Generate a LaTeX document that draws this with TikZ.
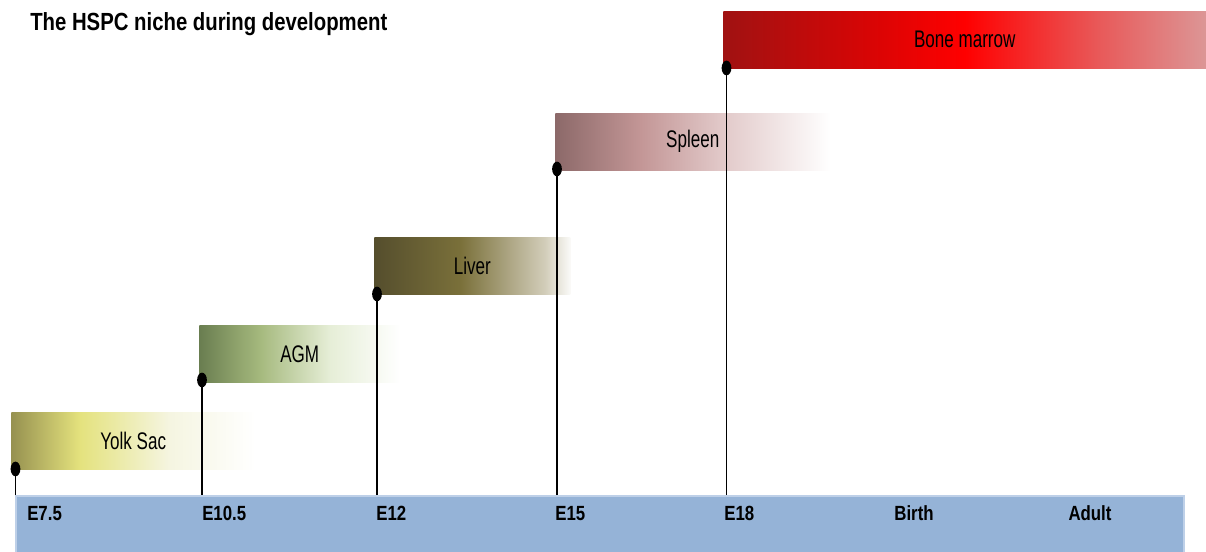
\documentclass[tikz,border=0pt]{standalone}
\usepackage{fontspec}
\setmainfont{Liberation Sans}
\newfontfamily\barfont{Liberation Sans}[FakeStretch=0.71]
\newfontfamily\labfont{Liberation Sans}[FakeStretch=0.82]
\usepackage{xcolor}
\usetikzlibrary{positioning, shapes.geometric}

\definecolor{ysA}{RGB}{150,145,80}
\definecolor{ysB}{RGB}{228,226,125}
\definecolor{ysC}{RGB}{245,245,225}
\definecolor{agA}{RGB}{105,125,80}
\definecolor{agB}{RGB}{165,185,125}
\definecolor{agC}{RGB}{230,238,215}
\definecolor{lvA}{RGB}{85,78,45}
\definecolor{lvB}{RGB}{122,112,58}
\definecolor{lvC}{RGB}{210,205,185}
\definecolor{lvD}{RGB}{250,250,248}
\definecolor{spA}{RGB}{140,105,105}
\definecolor{spB}{RGB}{195,150,150}
\definecolor{spC}{RGB}{225,200,200}
\definecolor{bmA}{RGB}{160,18,18}
\definecolor{bmB}{RGB}{215,5,5}
\definecolor{bmC}{RGB}{255,0,0}
\definecolor{bmD}{RGB}{232,90,90}
\definecolor{bmE}{RGB}{220,150,150}
\definecolor{axisblue}{RGB}{149,179,215}
\definecolor{axisedge}{RGB}{190,208,232}

% bar shadings: the node spans 25bp..75bp
\pgfdeclarehorizontalshading{yolkshade}{100bp}{color(0bp)=(ysA); color(25bp)=(ysA); color(39bp)=(ysB); color(57.5bp)=(ysC); color(75bp)=(white); color(100bp)=(white)}
\pgfdeclarehorizontalshading{agmshade}{100bp}{color(0bp)=(agA); color(25bp)=(agA); color(40bp)=(agB); color(57.5bp)=(agC); color(75bp)=(white); color(100bp)=(white)}
\pgfdeclarehorizontalshading{livershade}{100bp}{color(0bp)=(lvA); color(25bp)=(lvA); color(47bp)=(lvB); color(68.5bp)=(lvC); color(75bp)=(lvD); color(100bp)=(lvD)}
\pgfdeclarehorizontalshading{spleenshade}{100bp}{color(0bp)=(spA); color(25bp)=(spA); color(40.5bp)=(spB); color(55bp)=(spC); color(75bp)=(white); color(100bp)=(white)}
\pgfdeclarehorizontalshading{boneshade}{100bp}{color(0bp)=(bmA); color(25bp)=(bmA); color(40bp)=(bmB); color(50bp)=(bmC); color(64bp)=(bmD); color(75bp)=(bmE); color(100bp)=(bmE)}

\begin{document}
\begin{tikzpicture}[x=0.75pt, y=-0.75pt,
    bar/.style={anchor=north west, minimum height=42.75pt, inner sep=0pt,
        font=\barfont\fontsize{18}{18}\selectfont},
    axisbar/.style={anchor=north west, fill=axisblue, draw=axisedge, line width=1.2pt,
        minimum width=876pt, minimum height=42.75pt, inner sep=0pt},
    axislab/.style={inner sep=0pt, font=\labfont\bfseries\fontsize{15.4}{15.4}\selectfont},
    titlelab/.style={inner sep=0pt, font=\labfont\bfseries\fontsize{18.6}{18.6}\selectfont},
    dot/.style={ellipse, fill=black, minimum width=7.3pt, minimum height=11pt, inner sep=0pt},
    tick/.style={line width=1.1pt}]
    \useasboundingbox (0,0) rectangle (1206,552);

    \node[titlelab, anchor=base west] (title) at (30,31) {The HSPC niche during development};

    % the niches
    \node[bar, shading=yolkshade,   minimum width=183pt]    (yolk)   at (11,412)  {Yolk Sac};
    \node[bar, shading=agmshade,    minimum width=150.75pt] (agm)    at (199,325) {AGM};
    \node[bar, shading=livershade,  minimum width=147pt]    (liver)  at (374,237) {Liver};
    \node[bar, shading=spleenshade, minimum width=206.25pt] (spleen) at (555,113) {Spleen};
    \node[bar, shading=boneshade,   minimum width=362.25pt] (bone)   at (723,11)  {Bone marrow};

    % time axis
    \node[axisbar] (axis) at (15,495) {};
    \node[axislab, anchor=base west] (e75)   at (27,520)   {E7.5};
    \node[axislab, anchor=base west] (e105)  at (202,520)  {E10.5};
    \node[axislab, anchor=base west] (e12)   at (376,520)  {E12};
    \node[axislab, anchor=base west] (e15)   at (555,520)  {E15};
    \node[axislab, anchor=base west] (e18)   at (724,520)  {E18};
    \node[axislab, anchor=base]      (birth) at (914,520)  {Birth};
    \node[axislab, anchor=base]      (adult) at (1090,520) {Adult};

    % onset markers
    \node[dot] (dyolk)   at (15.5,469) {};
    \node[dot] (dagm)    at (202,380)  {};
    \node[dot] (dliver)  at (377,294)  {};
    \node[dot] (dspleen) at (557,169)  {};
    \node[dot] (dbone)   at (726.5,68) {};
    \foreach \d in {dyolk, dagm, dliver, dspleen, dbone}
        \draw[tick] (\d.center) -- (\d.center |- axis.north);
\end{tikzpicture}
\end{document}
